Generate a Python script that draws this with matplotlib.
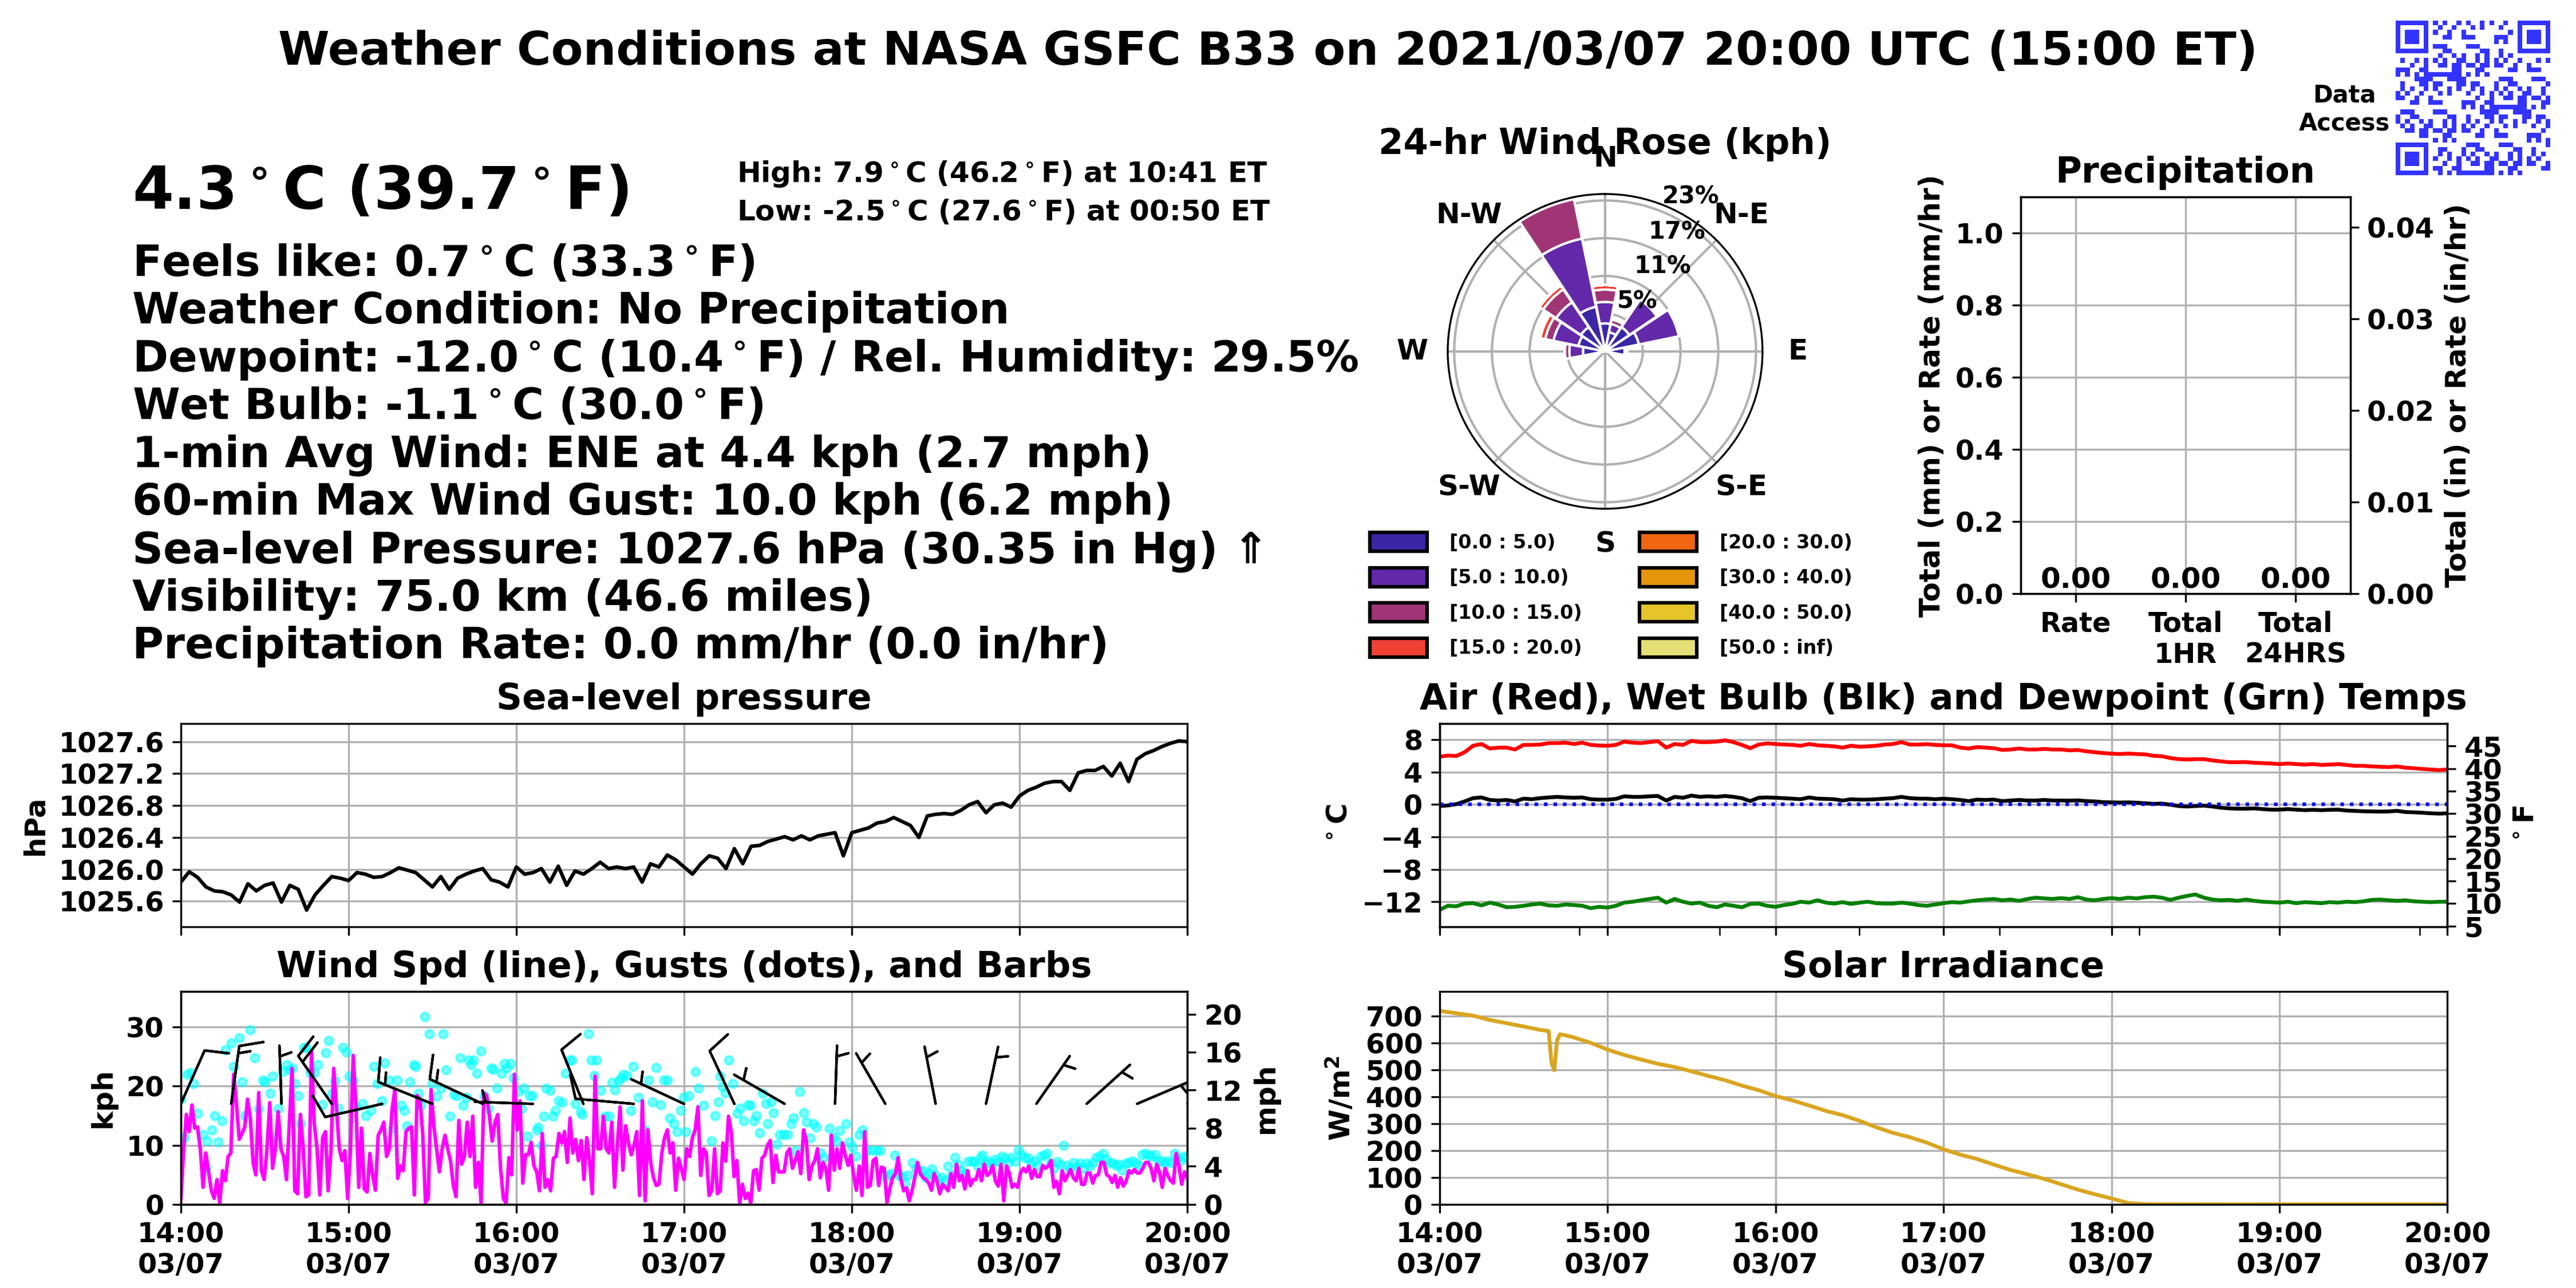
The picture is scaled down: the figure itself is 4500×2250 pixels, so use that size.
import numpy as np
import matplotlib
matplotlib.use('Agg')
import matplotlib.pyplot as plt
import matplotlib.dates as mdates
from matplotlib.patches import Patch

plt.rcParams['font.family'] = ['DejaVu Sans']
plt.rcParams['font.weight'] = 'bold'
plt.rcParams['axes.labelweight'] = 'bold'
plt.rcParams['axes.titleweight'] = 'bold'

T0 = np.datetime64('2021-03-07T14:00:00')

# ---------------- data ----------------
title = 'Weather Conditions at NASA GSFC B33 on 2021/03/07 20:00 UTC (15:00 ET)'
big_temp = '4.3$^\\circ$C (39.7$^\\circ$F)'
high_low = ['High: 7.9$^\\circ$C (46.2$^\\circ$F) at 10:41 ET',
            'Low: -2.5$^\\circ$C (27.6$^\\circ$F) at 00:50 ET']
info_lines = ['Feels like: 0.7$^\\circ$C (33.3$^\\circ$F)',
              'Weather Condition: No Precipitation',
              'Dewpoint: -12.0$^\\circ$C (10.4$^\\circ$F) / Rel. Humidity: 29.5%',
              'Wet Bulb: -1.1$^\\circ$C (30.0$^\\circ$F)',
              '1-min Avg Wind: ENE at 4.4 kph (2.7 mph)',
              '60-min Max Wind Gust: 10.0 kph (6.2 mph)',
              'Sea-level Pressure: 1027.6 hPa (30.35 in Hg) \u21d1',
              'Visibility: 75.0 km (46.6 miles)',
              'Precipitation Rate: 0.0 mm/hr (0.0 in/hr)']

# 3-minute samples, 14:00 -> 20:00
pressure_hpa = [
    1025.84, 1025.97, 1025.90, 1025.78, 1025.73, 1025.72, 1025.68, 1025.59, 1025.82, 1025.73,
    1025.80, 1025.83, 1025.59, 1025.80, 1025.75, 1025.49, 1025.68, 1025.80, 1025.91, 1025.89,
    1025.86, 1025.96, 1025.94, 1025.90, 1025.91, 1025.96, 1026.02, 1025.99, 1025.96, 1025.87,
    1025.78, 1025.91, 1025.75, 1025.89, 1025.94, 1025.98, 1026.01, 1025.87, 1025.84, 1025.78,
    1026.03, 1025.94, 1025.96, 1026.01, 1025.84, 1026.04, 1025.80, 1025.98, 1025.94, 1026.01,
    1026.09, 1026.01, 1026.03, 1026.01, 1026.03, 1025.84, 1026.07, 1026.03, 1026.18, 1026.12,
    1026.03, 1025.94, 1026.07, 1026.17, 1026.14, 1026.01, 1026.26, 1026.07, 1026.29, 1026.30,
    1026.35, 1026.38, 1026.41, 1026.37, 1026.42, 1026.37, 1026.42, 1026.44, 1026.46, 1026.17,
    1026.46, 1026.49, 1026.52, 1026.58, 1026.60, 1026.65, 1026.60, 1026.55, 1026.40, 1026.67,
    1026.69, 1026.70, 1026.69, 1026.74, 1026.81, 1026.85, 1026.71, 1026.81, 1026.83, 1026.78,
    1026.92, 1026.99, 1027.03, 1027.08, 1027.10, 1027.10, 1026.99, 1027.21, 1027.24, 1027.24,
    1027.29, 1027.17, 1027.33, 1027.10, 1027.38, 1027.45, 1027.49, 1027.54, 1027.58, 1027.61,
    1027.60]

air_c = [
    5.90, 6.06, 6.00, 6.47, 7.26, 7.48, 6.92, 7.03, 7.03, 6.80,
    7.37, 7.37, 7.41, 7.59, 7.59, 7.64, 7.48, 7.64, 7.37, 7.30,
    7.26, 7.37, 7.77, 7.64, 7.59, 7.71, 7.82, 7.03, 7.48, 7.37,
    7.86, 7.71, 7.71, 7.77, 7.93, 7.71, 7.37, 6.96, 7.41, 7.55,
    7.48, 7.41, 7.37, 7.26, 7.48, 7.32, 7.26, 7.19, 7.03, 7.26,
    7.14, 7.19, 7.26, 7.41, 7.48, 7.71, 7.41, 7.41, 7.46, 7.37,
    7.32, 7.32, 7.03, 6.92, 7.10, 7.03, 6.96, 6.74, 6.80, 6.92,
    6.80, 6.80, 6.87, 6.80, 6.80, 6.69, 6.74, 6.58, 6.47, 6.36,
    6.29, 6.24, 6.29, 6.24, 6.20, 6.02, 5.97, 5.75, 5.61, 5.57,
    5.61, 5.61, 5.45, 5.34, 5.23, 5.23, 5.25, 5.16, 5.12, 5.07,
    5.00, 5.07, 5.00, 4.94, 5.00, 4.89, 4.94, 5.00, 4.89, 4.78,
    4.78, 4.71, 4.67, 4.62, 4.71, 4.55, 4.49, 4.40, 4.33, 4.26,
    4.33]

wetbulb_c = [
    -0.18, -0.11, 0.05, 0.39, 0.79, 0.88, 0.57, 0.50, 0.57, 0.39,
    0.73, 0.66, 0.79, 0.88, 0.95, 0.88, 0.84, 0.88, 0.66, 0.61,
    0.61, 0.70, 1.02, 0.95, 0.95, 1.02, 1.06, 0.50, 0.95, 0.84,
    1.11, 0.95, 1.02, 0.95, 1.06, 0.95, 0.79, 0.43, 0.84, 0.88,
    0.84, 0.79, 0.73, 0.66, 0.88, 0.73, 0.70, 0.66, 0.50, 0.66,
    0.61, 0.61, 0.66, 0.73, 0.79, 0.95, 0.79, 0.73, 0.73, 0.66,
    0.73, 0.66, 0.57, 0.43, 0.61, 0.57, 0.61, 0.43, 0.50, 0.57,
    0.50, 0.50, 0.57, 0.50, 0.50, 0.48, 0.52, 0.43, 0.39, 0.30,
    0.27, 0.25, 0.27, 0.23, 0.16, 0.09, 0.12, -0.02, -0.18, -0.24,
    -0.18, -0.13, -0.24, -0.38, -0.47, -0.51, -0.51, -0.47, -0.56, -0.63,
    -0.63, -0.56, -0.63, -0.69, -0.65, -0.69, -0.65, -0.63, -0.74, -0.78,
    -0.83, -0.85, -0.87, -0.85, -0.78, -0.92, -0.96, -1.01, -1.08, -1.12,
    -1.08]

dewpoint_c = [
    -13.01, -12.50, -12.56, -12.23, -12.18, -12.45, -12.11, -12.34, -12.68, -12.63,
    -12.50, -12.34, -12.23, -12.45, -12.50, -12.34, -12.41, -12.50, -12.79, -12.63,
    -12.72, -12.50, -12.11, -12.00, -11.82, -11.66, -11.50, -12.11, -11.66, -12.00,
    -12.23, -12.11, -12.50, -12.68, -12.34, -12.50, -12.68, -12.27, -12.23, -12.50,
    -12.63, -12.41, -12.27, -12.00, -12.11, -11.82, -12.11, -12.23, -12.05, -12.27,
    -12.11, -12.00, -12.18, -12.23, -12.23, -12.11, -12.23, -12.41, -12.50, -12.34,
    -12.18, -12.05, -12.11, -11.95, -11.82, -11.73, -11.66, -11.82, -11.73, -11.89,
    -11.66, -11.50, -11.59, -11.66, -11.55, -11.66, -11.44, -11.73, -11.82, -11.66,
    -11.55, -11.66, -11.50, -11.59, -11.44, -11.37, -11.50, -11.77, -11.50, -11.28,
    -11.10, -11.50, -11.73, -11.82, -11.77, -11.89, -11.73, -11.89, -12.00, -12.05,
    -12.11, -12.00, -12.18, -12.05, -12.11, -12.18, -12.05, -12.11, -12.00, -12.05,
    -11.95, -11.77, -11.73, -11.82, -11.89, -11.82, -11.95, -12.00, -12.05, -12.00,
    -12.00]

# 1-minute average wind speed (kph), 14:00 -> 20:00
wind_kph = [
    0.6, 9.1, 15.2, 12.3, 16.8, 12.9, 13.1, 9.4, 2.9, 8.7,
    5.5, 2.3, 1.0, 4.2, 0.2, 5.7, 4.0, 8.1, 8.7, 22.0,
    17.2, 11.0, 12.0, 13.1, 17.8, 14.6, 7.0, 5.0, 18.9, 5.7,
    4.2, 9.4, 17.2, 6.1, 9.4, 15.7, 9.4, 8.1, 4.2, 13.3,
    23.0, 2.3, 1.8, 15.2, 9.7, 1.3, 1.6, 25.9, 13.6, 9.4,
    1.6, 11.3, 12.3, 2.3, 9.1, 23.0, 16.2, 9.4, 7.4, 9.1,
    1.0, 9.1, 25.2,
    16.5, 2.9, 12.9, 2.6, 2.1, 8.6, 4.9, 2.4, 11.7, 12.6,
    13.9, 8.1, 9.4, 16.2, 19.4, 4.4, 6.5, 5.7, 12.3, 12.9,
    13.1, 1.6, 18.4, 17.8, 12.0, 0.3, 1.0, 19.4, 13.3, 9.4,
    5.5, 9.4, 11.7, 9.4, 7.4, 3.2, 1.3, 14.2, 6.8, 8.1,
    13.9, 8.1, 14.9, 2.9, 7.1, 0.2, 18.8, 18.4, 14.9, 10.7,
    13.9, 15.2, 6.1, 1.0, 0.2, 7.9, 5.0, 22.0, 12.6, 17.5,
    3.6, 8.4, 8.4, 10.5, 6.5, 5.5, 2.3, 12.0, 2.9, 4.2,
    2.3, 7.8, 8.1, 12.0, 10.4, 12.3, 7.1, 14.6, 8.7, 11.0,
    7.4, 10.8, 4.2, 11.3, 7.4, 1.8, 21.7, 9.4, 9.4, 14.9,
    9.4, 8.7, 13.9, 2.9, 10.0, 16.5, 5.8, 13.3, 10.4, 8.4,
    10.0, 12.3, 1.5, 17.5, 0.6, 12.6, 7.1, 4.5, 3.2, 3.4,
    8.7, 11.3, 12.6, 8.7, 10.4, 2.4, 7.8, 6.1, 4.2, 9.4,
    8.1, 11.3, 12.6, 16.5, 4.9, 9.4, 8.7, 1.5, 2.4, 9.4,
    1.8, 2.3, 10.4, 7.3, 14.9, 12.3, 4.7, 7.4, 0.2, 3.4,
    1.0, 1.9, 0.2, 5.7, 5.9, 2.4, 7.8, 8.3, 10.0, 10.8,
    3.7, 8.3, 5.5, 5.5, 5.5, 8.7, 9.4, 6.1, 7.4, 8.9,
    5.2, 12.6, 10.7, 4.2, 6.5, 7.4, 9.4, 4.5, 7.1, 6.1,
    2.4, 11.7, 5.8, 9.4, 6.1, 10.4, 8.3, 6.6, 8.3, 4.9,
    2.4, 6.5, 1.5, 12.3, 2.9, 3.2, 7.4, 7.8, 3.2, 6.3,
    6.1, 0.3, 2.6, 4.5, 5.2, 7.9, 4.2, 2.3, 2.8, 0.6,
    2.3, 4.5, 7.1, 5.2, 4.5, 4.2, 3.6, 2.4, 5.2, 3.9,
    1.8, 3.4, 2.9, 2.3, 5.2, 2.9, 6.8, 4.0, 4.9, 2.6,
    5.7, 3.2, 4.2, 4.2, 5.9, 4.0, 6.8, 4.9, 5.3, 6.6,
    3.9, 3.1, 6.8, 0.6, 6.5, 5.2, 2.9, 3.4, 2.9, 5.3,
    6.1, 5.5, 6.5, 4.4, 5.9, 4.7, 4.7, 6.6, 6.1, 6.5,
    7.4, 2.9, 3.9, 1.8, 5.7, 4.0, 4.9, 5.9, 4.5, 4.0,
    6.1, 3.4, 3.4, 5.3, 5.3, 3.6, 4.9, 5.0, 7.1, 7.1,
    5.0, 4.7, 3.7, 4.9, 2.9, 4.5, 3.1, 3.9, 5.7, 5.3,
    5.9, 5.3, 5.3, 6.1, 7.1, 7.1, 6.1, 4.0, 6.8, 5.5,
    2.9, 6.1, 4.9, 4.0, 3.6, 8.6, 6.5, 3.4, 5.5, 4.5]

# (minutes after 14:00, gust kph)
gusts = [
    (0, 17.8), (1.2, 11.3), (2.3, 22.0), (3.5, 22.3), (4.6, 20.4), (6.0, 15.4), (7.9, 11.8), (9.0, 6.1), (9.5, 10.7), (11.0, 12.6),
    (12.1, 15.0), (13.3, 10.5), (14.7, 14.1), (16.0, 26.1), (18.0, 27.3), (18.8, 23.3), (20.9, 28.2), (22.0, 20.7), (22.9, 15.0), (24.8, 29.5),
    (26.5, 24.8), (27.8, 16.2), (29.2, 21.0), (30.2, 20.7), (31.9, 18.8), (32.8, 21.7), (34.0, 11.3), (34.8, 16.2), (36.5, 22.5), (37.8, 23.6),
    (39.0, 22.7), (40.0, 23.0), (40.8, 20.4), (42.0, 18.4), (42.9, 13.6), (44.1, 26.5), (44.9, 26.5), (46.2, 22.3), (47.8, 22.3), (49.0, 23.6),
    (50.5, 16.8), (51.9, 25.6), (52.8, 27.7), (54.1, 18.8), (55.1, 20.9), (56.3, 16.3), (58.0, 26.5), (59.2, 25.7), (60.3, 21.7), (61.7, 21.0),
    (62.6, 16.5), (64.0, 11.7), (65.0, 17.0), (66.1, 15.0), (67.9, 15.9), (69.0, 23.3), (70.2, 20.4), (71.9, 17.5), (72.9, 23.9), (74.5, 21.0),
    (76.0, 12.9), (77.5, 21.0), (78.9, 16.7), (79.8, 15.9), (81.0, 13.3), (81.9, 20.7), (83.3, 23.6), (83.9, 23.3), (84.9, 18.8), (85.8, 16.7),
    (87.2, 31.7), (88.9, 28.8), (89.9, 20.4), (91.6, 18.3), (92.9, 19.6), (93.9, 28.8), (94.8, 22.7), (96.3, 14.9), (97.7, 18.6), (98.8, 18.4),
    (100.0, 24.8), (100.9, 16.7), (102.1, 18.1), (103.0, 24.4), (103.8, 23.6), (104.6, 24.4), (105.8, 22.2), (107.3, 25.9), (108.5, 18.4), (109.9, 16.2),
    (111.1, 23.0), (111.9, 22.8), (113.1, 19.6), (114.6, 22.2), (115.8, 23.8), (116.6, 23.0), (118.0, 23.8), (118.9, 21.4), (120.9, 19.1), (121.8, 16.2),
    (122.7, 19.6), (123.9, 11.5), (124.7, 18.4), (125.8, 18.4), (127.3, 12.6), (127.8, 13.1), (129.0, 10.0), (129.9, 14.9), (130.7, 19.6), (132.0, 19.3),
    (133.1, 14.9), (134.0, 15.9), (135.2, 17.5), (136.4, 17.2), (137.7, 22.2), (139.0, 24.4), (139.8, 24.4), (141.1, 17.0), (142.9, 15.7), (143.6, 15.2),
    (145.9, 28.8), (146.8, 24.4), (147.9, 21.8), (148.7, 24.4), (150.2, 19.3), (151.7, 14.9), (153.1, 14.9), (154.3, 20.6), (155.2, 19.4), (156.6, 20.9),
    (157.5, 21.4), (158.4, 22.0), (159.5, 21.8), (160.9, 15.9), (161.8, 23.3), (163.6, 18.1), (165.9, 12.6), (167.3, 21.0), (168.8, 17.3), (170.0, 23.1),
    (171.7, 16.8), (172.9, 21.0), (174.0, 21.0), (174.9, 14.6), (176.3, 13.6), (177.5, 12.3), (178.7, 15.9), (179.8, 18.1),
    (180.6, 12.3), (181.7, 18.4), (184.1, 22.5), (185.2, 19.6), (187.0, 16.7), (189.9, 10.7), (191.0, 15.0), (192.2, 17.3), (193.0, 21.7), (193.7, 19.9),
    (194.8, 18.9), (195.9, 24.4), (197.4, 20.4), (199.0, 15.4), (200.0, 16.3), (201.2, 14.1), (203.0, 16.8), (203.8, 16.7), (205.0, 14.1), (205.8, 15.0),
    (207.0, 12.1), (208.1, 18.8), (209.2, 17.0), (210.0, 13.6), (211.1, 17.3), (211.9, 15.5), (213.1, 10.2), (214.2, 11.8), (215.7, 11.8), (217.1, 11.8),
    (218.3, 13.6), (219.2, 14.6), (220.0, 9.1), (221.4, 19.1), (222.7, 15.5), (223.9, 13.9), (225.0, 11.2), (226.2, 13.6), (227.3, 13.1), (228.7, 8.7),
    (229.9, 7.9), (232.0, 12.9), (233.4, 11.3), (234.5, 10.7), (235.7, 12.5), (237.9, 13.6), (239.2, 10.5), (240.3, 9.7), (241.5, 8.1), (242.6, 11.8),
    (243.8, 12.6), (245.5, 9.1), (247.3, 9.2), (249.0, 9.1), (250.2, 9.1), (251.3, 4.9), (253.1, 4.9), (254.2, 5.2), (255.4, 8.3), (256.8, 4.9),
    (258.0, 4.7), (259.1, 3.6), (260.0, 4.9), (261.8, 7.1), (262.9, 6.1), (264.1, 5.7), (265.3, 5.7), (266.4, 4.5), (267.6, 5.2), (268.7, 6.0),
    (269.9, 4.9), (271.1, 4.2), (272.2, 4.5), (273.4, 4.0), (274.5, 6.5), (275.7, 4.9), (276.9, 7.9), (278.0, 6.8), (279.2, 5.8), (280.3, 5.3),
    (281.5, 7.3), (282.7, 7.4), (283.8, 7.3), (285.0, 6.5), (286.1, 7.9), (286.7, 8.3), (287.9, 7.0), (289.0, 7.4), (290.2, 7.0), (291.4, 7.6),
    (292.5, 7.3), (293.7, 8.1), (294.8, 7.8), (296.0, 7.1), (297.2, 7.9), (298.3, 7.3), (299.5, 9.2), (300.6, 8.4), (301.8, 7.9), (303.0, 7.8),
    (304.1, 7.1), (305.3, 7.4), (306.5, 6.6), (307.6, 8.1), (308.8, 8.3), (309.9, 8.6), (311.1, 7.0), (312.3, 6.1), (313.5, 7.3), (314.6, 6.8),
    (315.8, 10.0), (317.0, 6.6), (318.1, 6.1), (319.3, 7.1), (320.4, 6.5), (321.6, 7.0), (322.8, 6.1), (324.0, 7.0), (325.1, 6.5), (326.3, 7.1),
    (327.5, 7.9), (328.6, 8.1), (329.8, 8.6), (331.0, 7.6), (332.2, 7.1), (333.3, 7.0), (334.5, 6.6), (335.7, 6.8), (336.6, 5.8), (338.0, 7.0),
    (339.2, 7.1), (340.3, 7.4), (341.5, 7.0), (342.7, 6.6), (343.8, 8.4), (345.0, 8.6), (346.2, 8.3), (347.3, 8.1), (348.5, 8.4), (349.7, 7.4),
    (350.8, 7.4), (352.0, 7.0), (353.1, 7.4), (354.3, 7.1), (355.5, 8.6), (356.6, 7.8), (357.5, 7.4), (358.7, 8.1), (359.8, 7.9)]

# wind barbs every 18 minutes
barb_spd = [10, 15, 5, 20, 10, 15, 15, 5, 10, 10, 5, 10, 5, 5, 5, 5, 5, 5, 5, 5, 5]
barb_dir = [24, 8, 358, 325, 257, 292, 295, 272, 338, 275, 295, 335, 300, 2, 330, 349, 12, 35, 48, 67, 67]

solar_min = [0, 6, 12, 18, 24, 30, 36, 39, 40, 41, 42, 43, 45, 48, 54, 60, 66, 72, 78, 84, 90, 96,
             102, 108, 114, 120, 126, 132, 138, 144, 150, 156, 162, 168, 174, 180, 186, 192, 198, 204, 210, 216,
             222, 228, 234, 240, 246, 252, 258, 270, 300, 330, 360]
solar_wm2 = [720, 711, 702, 686, 674, 662, 649, 645, 527, 499, 609, 633, 629, 621, 601, 576, 556, 539, 523, 511, 495, 478,
             462, 442, 425, 403, 387, 368, 348, 332, 311, 287, 266, 250, 230, 205, 185, 169, 148, 128, 112, 95,
             75, 55, 38, 22, 5, 1, 0.5, 0.3, 0.2, 0.2, 0.2]

# wind rose: % per direction (N, NNE, ... NNW) for each speed bin
rose_dirs = np.arange(16) * 22.5
rose_pct = [
    [4.3, 3.0, 4.5, 5.3, 3.0, 0, 0, 0, 0, 0, 0, 0, 3.4, 4.2, 4.5, 7.0],
    [3.3, 1.3, 5.1, 6.3, 0.4, 0, 0, 0, 0, 0, 0, 0, 2.1, 3.9, 4.6, 10.7],
    [1.9, 0.7, 0.3, 0, 0, 0, 0, 0, 0, 0, 0, 0, 0.7, 1.3, 2.4, 6.2],
    [0.7, 0.3, 0.1, 0, 0, 0, 0, 0, 0, 0, 0, 0, 0, 0.8, 0.7, 0.8],
    [0] * 16, [0] * 16, [0] * 16, [0] * 16]
rose_bins = ['[0.0 : 5.0)', '[5.0 : 10.0)', '[10.0 : 15.0)', '[15.0 : 20.0)',
             '[20.0 : 30.0)', '[30.0 : 40.0)', '[40.0 : 50.0)', '[50.0 : inf)']
rose_colors = ['#3b27a5', '#6429aa', '#a03576', '#ef4136',
               '#f06612', '#e5960c', '#e5c52a', '#e5e075']
compass = ['N', 'N-E', 'E', 'S-E', 'S', 'S-W', 'W', 'N-W']
rose_rings = [5.8, 11.6, 17.4, 23.2]
rose_ring_labels = ['5%', '11%', '17%', '23%']

precip_labels = ['Rate', 'Total\n1HR', 'Total\n24HRS']
precip_mm = [0.0, 0.0, 0.0]


def to_time(minutes):
    return T0 + (np.asarray(minutes, dtype=float) * 60).round().astype('timedelta64[s]')


def time_axis(ax, labels=True):
    ax.set_xlim(to_time(0), to_time(360))
    ax.xaxis.set_major_locator(mdates.HourLocator())
    ax.xaxis.set_major_formatter(mdates.DateFormatter('%H:%M\n%m/%d'))
    ax.grid(True)
    if not labels:
        ax.tick_params(labelbottom=False)


fig = plt.figure(figsize=(15, 7.5), dpi=300)
TICK = 11.5
plt.rcParams['xtick.labelsize'] = TICK
plt.rcParams['ytick.labelsize'] = TICK

# ---------------- header text ----------------
fig.text(0.4923, 0.9498, title, ha='center', va='baseline', fontsize=19.5)
fig.text(0.0513, 0.838, big_temp, ha='left', va='baseline', fontsize=24.8)
fig.text(0.286, 0.8587, high_low[0], ha='left', va='baseline', fontsize=12)
fig.text(0.286, 0.829, high_low[1], ha='left', va='baseline', fontsize=12)
for i, line in enumerate(info_lines):
    fig.text(0.0513, 0.786 - i * 0.03715, line, ha='left', va='baseline', fontsize=18)

# QR-like block
n = 33
qr = np.zeros((n, n))
for i in range(n):
    for j in range(n):
        qr[i, j] = ((i * 31 + j * 17 + (i * j) % 7) % 5) < 2
for (r0, c0) in [(0, 0), (0, n - 7), (n - 7, 0)]:
    qr[max(r0 - 1, 0):r0 + 8, max(c0 - 1, 0):c0 + 8] = 0
    qr[r0:r0 + 7, c0:c0 + 7] = 1
    qr[r0 + 1:r0 + 6, c0 + 1:c0 + 6] = 0
    qr[r0 + 2:r0 + 5, c0 + 2:c0 + 5] = 1
axq = fig.add_axes([0.930, 0.863, 0.060, 0.122])
axq.imshow(qr, cmap=matplotlib.colors.ListedColormap(['white', '#3333ff']), interpolation='nearest')
axq.axis('off')
fig.text(0.910, 0.915, 'Data\nAccess', ha='center', va='center', fontsize=10, multialignment='center')

# ---------------- wind rose ----------------
axr = fig.add_axes([0.562, 0.605, 0.1222, 0.2444], projection='polar')
axr.set_theta_zero_location('N')
axr.set_theta_direction(-1)
axr.set_axisbelow(True)
theta = np.deg2rad(rose_dirs)
bottom = np.zeros(16)
for k in range(len(rose_bins)):
    vals = np.array(rose_pct[k], dtype=float)
    axr.bar(theta, vals, width=np.deg2rad(22.5) * 0.97, bottom=bottom,
            color=rose_colors[k], edgecolor='white', linewidth=1.0)
    bottom += vals
rmax = 24.2
axr.set_ylim(0, rmax)
axr.set_rgrids(rose_rings, labels=[''] * 4)
axr.set_thetagrids(np.arange(0, 360, 45), labels=[''] * 8)
axr.grid(color='#b0b0b0', linewidth=1.0)
for lab, ang in zip(compass, np.arange(0, 360, 45)):
    axr.text(np.deg2rad(ang), 1.225 * rmax, lab, ha='center', va='center',
             fontsize=12, clip_on=False)
for lab, rr, ang in zip(rose_ring_labels, [9.15, 15.7, 21.4, 27.2], [33, 34, 31, 29]):
    axr.text(np.deg2rad(ang), rr, lab, ha='center', va='center', fontsize=10, clip_on=False)
fig.text(0.623, 0.888, '24-hr Wind Rose (kph)', ha='center', va='center', fontsize=15)
handles = [Patch(facecolor=c, edgecolor='black', linewidth=1.5) for c in rose_colors]
fig.legend(handles, rose_bins, loc='upper left', bbox_to_anchor=(0.525, 0.600), ncol=2,
           frameon=False, fontsize=8, handlelength=3.0, handleheight=1.15,
           handletextpad=1.2, columnspacing=3.0, labelspacing=0.8)

# ---------------- precipitation ----------------
axp = fig.add_axes([0.7844, 0.539, 0.128, 0.308])
xp = np.arange(len(precip_labels))
axp.bar(xp, precip_mm, color='#3333ff')
axp.set_xlim(-0.5, 2.5)
axp.set_ylim(0, 1.1)
axp.set_xticks(xp, precip_labels)
axp.set_yticks(np.arange(0, 1.01, 0.2))
axp.grid(True)
for x, v in zip(xp, precip_mm):
    axp.text(x, v, f'{v:.2f}', ha='center', va='bottom', fontsize=12)
axp.set_title('Precipitation', fontsize=15)
axp.set_ylabel('Total (mm) or Rate (mm/hr)', fontsize=12)
axp2 = axp.twinx()
axp2.set_ylim(0, 1.1 / 25.4)
axp2.set_yticks([0, 0.01, 0.02, 0.03, 0.04])
axp2.set_ylabel('Total (in) or Rate (in/hr)', fontsize=12)

# ---------------- sea-level pressure ----------------
t3 = to_time(np.arange(0, 361, 3))
axs = fig.add_axes([0.0702, 0.2804, 0.3907, 0.158])
axs.plot(t3, pressure_hpa, color='black', linewidth=1.5)
axs.set_ylim(1025.28, 1027.83)
axs.set_yticks(np.arange(1025.6, 1027.7, 0.4))
axs.yaxis.set_major_formatter(matplotlib.ticker.FormatStrFormatter('%.1f'))
axs.set_ylabel('hPa', fontsize=12)
axs.set_title('Sea-level pressure', fontsize=15)
time_axis(axs, labels=False)

# ---------------- wind ----------------
axw = fig.add_axes([0.0702, 0.0649, 0.3907, 0.1653])
tw = to_time(np.linspace(0, 360, len(wind_kph)))
g = np.array(gusts)
axw.scatter(to_time(g[:, 0]), g[:, 1], s=12, color='cyan', alpha=0.5, zorder=2)
axw.plot(tw, wind_kph, color='magenta', linewidth=1.5, zorder=3)
bm = np.arange(0, 361, 18)
bs = np.array(barb_spd, dtype=float)
bd = np.deg2rad(barb_dir)
axw.barbs(mdates.date2num(to_time(bm)), np.full(len(bm), 17.0), -bs * np.sin(bd), -bs * np.cos(bd),
          length=7, color='black', zorder=4, clip_on=True)
axw.set_ylim(0, 36)
axw.set_yticks([0, 10, 20, 30])
axw.set_ylabel('kph', fontsize=12)
axw.set_title('Wind Spd (line), Gusts (dots), and Barbs', fontsize=15)
time_axis(axw)
axw2 = axw.twinx()
axw2.set_ylim(0, 36 / 1.609)
axw2.set_yticks(np.arange(0, 21, 4))
axw2.set_ylabel('mph', fontsize=12)

# ---------------- temperatures ----------------
axt = fig.add_axes([0.5588, 0.2804, 0.3913, 0.158])
axt.plot(t3, air_c, color='red', linewidth=1.6)
axt.plot(t3, wetbulb_c, color='black', linewidth=1.6)
axt.plot(t3, dewpoint_c, color='green', linewidth=1.6)
axt.axhline(0, color='blue', linestyle=':', linewidth=1.5)
axt.set_ylim(-15.1, 10.03)
axt.set_yticks([-12, -8, -4, 0, 4, 8])
axt.set_ylabel('$^\\circ$C', fontsize=12)
axt.set_title('Air (Red), Wet Bulb (Blk) and Dewpoint (Grn) Temps', fontsize=15)
time_axis(axt, labels=False)
axt.set_xticks(to_time(np.arange(50, 360, 50)), minor=True)
axt.tick_params(axis='x', which='minor', length=3.5)
axt2 = axt.twinx()
axt2.set_ylim(-15.1 * 1.8 + 32, 10.03 * 1.8 + 32)
axt2.set_yticks(np.arange(5, 46, 5))
axt2.set_ylabel('$^\\circ$F', fontsize=12)

# ---------------- solar ----------------
axo = fig.add_axes([0.5588, 0.0649, 0.3913, 0.1653])
axo.plot(to_time(solar_min), solar_wm2, color='goldenrod', linewidth=1.6)
axo.set_ylim(0, 792)
axo.set_yticks(np.arange(0, 701, 100))
axo.set_ylabel('W/m$^2$', fontsize=12)
axo.set_title('Solar Irradiance', fontsize=15)
time_axis(axo)

fig.savefig('out.png', dpi=300)
